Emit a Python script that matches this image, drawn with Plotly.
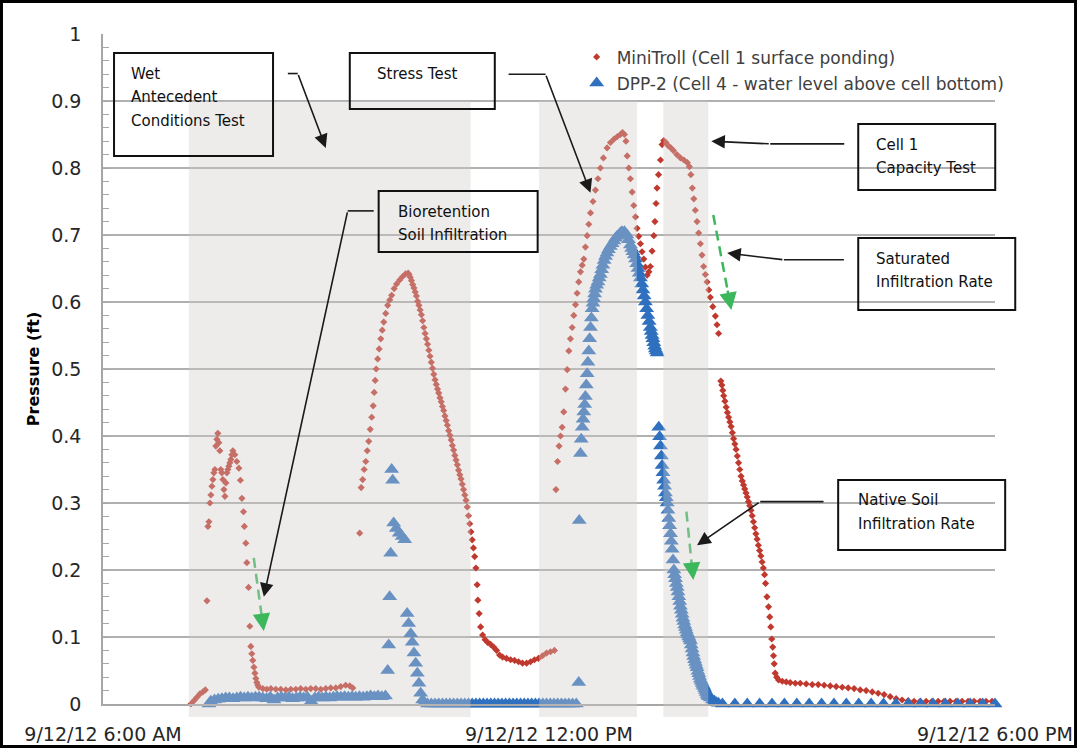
import pandas as pd
import plotly.graph_objects as go

BASE = pd.Timestamp("2012-09-12 06:00:00")


def ts(m):
    return (BASE + pd.Timedelta(minutes=m)).strftime("%Y-%m-%d %H:%M:%S")


# ---------------- data (minutes after 06:00, pressure ft) ----------------
# MiniTroll (Cell 1 surface ponding)
mt_wet = [(71.0, 0.000), (73.4, 0.005), (75.8, 0.010), (78.2, 0.015), (80.6, 0.018), (82.6, 0.021),
          (83.9, 0.154), (84.7, 0.265), (85.5, 0.272), (86.3, 0.300), (87.1, 0.312), (87.9, 0.325),
          (88.7, 0.335), (89.5, 0.345), (90.3, 0.350), (91.1, 0.385), (91.9, 0.395), (92.7, 0.404),
          (93.5, 0.390), (94.3, 0.378), (95.1, 0.350), (95.9, 0.345), (96.8, 0.335), (97.6, 0.320),
          (98.4, 0.310), (99.2, 0.330), (100.0, 0.345), (100.8, 0.350), (101.6, 0.355), (102.4, 0.360),
          (103.2, 0.365), (104.0, 0.372), (104.8, 0.378), (106.4, 0.372), (108.0, 0.362), (109.7, 0.352),
          (110.9, 0.334), (112.1, 0.307), (113.4, 0.287), (114.1, 0.265), (115.3, 0.240), (116.1, 0.211),
          (117.5, 0.174), (118.5, 0.116), (119.3, 0.086), (120.1, 0.075), (120.9, 0.065), (121.8, 0.055),
          (122.6, 0.046), (123.4, 0.038), (124.2, 0.032), (125.0, 0.028), (125.8, 0.025), (129.0, 0.023),
          (132.2, 0.022), (135.5, 0.023), (139.5, 0.022), (143.5, 0.022), (147.6, 0.021), (151.6, 0.022),
          (155.6, 0.022), (159.6, 0.023), (163.7, 0.022), (167.7, 0.023), (171.7, 0.023), (175.8, 0.022),
          (179.8, 0.023), (183.8, 0.024), (187.9, 0.024), (191.9, 0.026), (195.9, 0.028), (199.2, 0.027),
          (201.6, 0.024)]

mt_bio = [(207.2, 0.255), (208.4, 0.323), (209.6, 0.335), (210.8, 0.350), (212.1, 0.362), (213.3, 0.378),
          (214.5, 0.392), (215.7, 0.410), (216.9, 0.428), (218.1, 0.445), (218.9, 0.465), (219.7, 0.483),
          (220.5, 0.500), (221.7, 0.515), (222.9, 0.530), (224.2, 0.545), (225.4, 0.558), (226.6, 0.570),
          (228.2, 0.583), (229.8, 0.595), (231.4, 0.603), (233.0, 0.610), (235.0, 0.620), (237.0, 0.627),
          (239.5, 0.633), (241.9, 0.638), (244.3, 0.642), (246.3, 0.643), (247, 0.641), (248, 0.637),
          (249, 0.632), (250, 0.626), (251, 0.621), (252, 0.615), (253, 0.609), (254, 0.601), (255, 0.595),
          (256, 0.588), (257, 0.581), (258, 0.572), (259, 0.562), (260, 0.553), (261, 0.545), (262, 0.537),
          (263, 0.528), (264, 0.519), (265, 0.510), (266, 0.501), (267, 0.492), (268, 0.484), (269, 0.477),
          (270, 0.470), (271, 0.464), (272, 0.457), (273, 0.451), (274, 0.444), (275, 0.438), (276, 0.430),
          (277, 0.423), (278, 0.416), (279, 0.408), (280, 0.401), (281, 0.394), (282, 0.386), (283, 0.379),
          (284, 0.371), (285, 0.364), (286, 0.357), (287, 0.349), (288, 0.342), (289, 0.336), (290, 0.328),
          (291, 0.320), (292, 0.312), (293, 0.304), (294, 0.294), (295, 0.281), (296, 0.269), (297, 0.257),
          (298, 0.245), (299, 0.233), (300, 0.220), (301, 0.203), (302.0, 0.178), (302.6, 0.155),
          (303.6, 0.135), (304.8, 0.115), (306.4, 0.103), (308.4, 0.096), (310.4, 0.092), (312.8, 0.089),
          (315.3, 0.085), (317.7, 0.080), (320.1, 0.073), (322.5, 0.070), (325.7, 0.068), (329.0, 0.066),
          (332.2, 0.065), (335.4, 0.063), (338.6, 0.061), (341.9, 0.061), (345.1, 0.063), (348.3, 0.066),
          (351.5, 0.068), (354.8, 0.072), (358.0, 0.076), (361.2, 0.078), (364.4, 0.080)]

mt_stress = [(365.6, 0.320), (366.9, 0.362), (368.1, 0.385), (369.3, 0.400), (370.6, 0.413), (371.9, 0.436),
             (373.3, 0.470), (374.7, 0.499), (376.0, 0.527), (377.3, 0.545), (378.7, 0.562), (380.0, 0.580),
             (381.4, 0.596), (382.7, 0.613), (384.0, 0.630), (385.4, 0.645), (386.8, 0.655), (388.1, 0.664),
             (389.4, 0.682), (390.8, 0.699), (392.1, 0.716), (393.5, 0.733), (395.5, 0.750), (397.5, 0.767),
             (399.5, 0.784), (401.5, 0.800), (403.9, 0.815), (406.9, 0.830), (409.6, 0.838), (412.4, 0.843),
             (415.2, 0.847), (417.7, 0.850), (419.3, 0.853), (420.9, 0.850), (422.1, 0.840), (423.1, 0.818),
             (424.4, 0.800), (425.7, 0.784), (427.1, 0.764), (428.4, 0.744), (429.8, 0.727), (431.1, 0.710),
             (432.4, 0.698), (433.8, 0.687), (435.1, 0.675), (436.5, 0.664), (437.8, 0.652), (439.2, 0.640),
             (440.6, 0.645), (441.8, 0.653), (443.2, 0.676), (444.6, 0.699), (445.5, 0.720), (446.4, 0.747),
             (447.2, 0.770), (448.4, 0.790), (450.0, 0.812), (451.3, 0.835), (452.6, 0.841), (454.4, 0.838),
             (456.4, 0.833), (458.4, 0.830), (460.4, 0.826), (463.2, 0.820), (466.1, 0.815), (468.9, 0.812),
             (471.7, 0.808), (473.3, 0.802), (474.5, 0.790), (475.7, 0.770), (476.9, 0.754), (478.1, 0.737),
             (479.5, 0.720), (480.8, 0.703), (482.2, 0.687), (483.5, 0.670), (484.8, 0.653), (486.2, 0.641),
             (487.6, 0.630), (489.0, 0.618), (490.2, 0.607), (492.2, 0.593), (494.3, 0.579), (495.6, 0.566),
             (496.9, 0.553)]

mt_drain = [(498.7, 0.482), (499.5, 0.476), (500.3, 0.468), (501.0, 0.460), (502, 0.452), (503, 0.443),
            (504, 0.435), (505, 0.428), (506, 0.421), (507, 0.414), (508, 0.405), (509, 0.396), (510, 0.388),
            (511, 0.380), (512, 0.370), (513, 0.360), (514, 0.350), (515, 0.340), (516, 0.333), (517, 0.327),
            (518, 0.321), (519, 0.315), (520, 0.309), (521, 0.302), (522, 0.296), (523, 0.289), (524, 0.281),
            (525, 0.272), (526, 0.263), (527, 0.254), (528, 0.246), (529, 0.237), (530, 0.229), (531, 0.221),
            (532, 0.212), (533, 0.203), (534.0, 0.193), (534.8, 0.180), (535.9, 0.160), (537.2, 0.145),
            (538.2, 0.130), (539.0, 0.115), (539.8, 0.097), (540.6, 0.085), (541.2, 0.072), (541.8, 0.060),
            (542.6, 0.046), (543.8, 0.040), (545.3, 0.036), (548.3, 0.034), (551.5, 0.033), (554.7, 0.032),
            (558.8, 0.031), (562.8, 0.031), (567.6, 0.030), (572.5, 0.029), (577.3, 0.029), (582.1, 0.028),
            (587.0, 0.027), (591.8, 0.026), (596.7, 0.025), (601.5, 0.024), (606.3, 0.023), (611.2, 0.021),
            (616.0, 0.020), (620.9, 0.018), (625.7, 0.016), (630.5, 0.014), (635.4, 0.011), (640.2, 0.008),
            (645.0, 0.006), (649.9, 0.005), (654.7, 0.004), (659.5, 0.004), (664.4, 0.004), (669.2, 0.004),
            (674.1, 0.004), (678.9, 0.004), (683.7, 0.004), (688.6, 0.004), (693.4, 0.004), (698.3, 0.004),
            (703.1, 0.004), (707.9, 0.004), (712.8, 0.004), (717.6, 0.004)]

# DPP-2 (Cell 4 - water level above cell bottom)
dpp_low = [(85.5, 0.000), (87, 0.004), (90, 0.006), (93, 0.007), (96, 0.008), (99, 0.009), (102, 0.009),
           (105, 0.008), (108, 0.009), (111, 0.010), (114, 0.009), (117, 0.010), (120, 0.009), (123, 0.010),
           (126, 0.010), (129, 0.009), (132, 0.008), (135, 0.010), (138, 0.006), (141, 0.009), (144, 0.010),
           (147, 0.009), (150, 0.010), (153, 0.008), (156, 0.009), (159, 0.010), (162, 0.009), (165, 0.010),
           (168, 0.004), (171, 0.009), (174, 0.010), (177, 0.009), (180, 0.010), (183, 0.009), (186, 0.010),
           (189, 0.011), (192, 0.010), (195, 0.011), (198, 0.010), (201, 0.011), (204, 0.010), (207, 0.011),
           (210, 0.010), (213, 0.011), (216, 0.012), (219, 0.011), (222, 0.012), (225, 0.011), (228, 0.012)]

dpp_spike = [(229.8, 0.050), (230.6, 0.088), (231.4, 0.160), (232.2, 0.225), (233.0, 0.350), (233.8, 0.334),
             (234.6, 0.270), (236.7, 0.262), (239.1, 0.255), (241.5, 0.250), (243.5, 0.245), (245.5, 0.135),
             (246.7, 0.120), (248.4, 0.105), (249.6, 0.092), (251.0, 0.076), (252.4, 0.061), (253.7, 0.046),
             (255.0, 0.031), (256.4, 0.016), (258.0, 0.006), (259.2, 0.002)]

dpp_zero = [(262, 0.0), (265, 0.0), (268, 0.0), (271, 0.0), (274, 0.0), (277, 0.0), (280, 0.0), (283, 0.0),
            (286, 0.0), (289, 0.0), (292, 0.0), (295, 0.0), (298, 0.0), (301, 0.0), (304, 0.0), (307, 0.0),
            (310, 0.0), (313, 0.0), (316, 0.0), (319, 0.0), (322, 0.0), (325, 0.0), (328, 0.0), (331, 0.0),
            (334, 0.0), (337, 0.0), (340, 0.0), (343, 0.0), (346, 0.0), (349, 0.0), (352, 0.0), (355, 0.0),
            (358, 0.0), (361, 0.0), (364, 0.0), (367, 0.0), (370, 0.0), (373, 0.0), (376, 0.0), (379, 0.0),
            (382, 0.0), (384.0, 0.032)]

dpp_stress = [(384.4, 0.274), (385.4, 0.374), (386.0, 0.395), (386.8, 0.413), (387.5, 0.425), (388.1, 0.436),
              (388.8, 0.447), (389.4, 0.459), (390.1, 0.476), (390.8, 0.493), (391.4, 0.510), (392.1, 0.527),
              (392.8, 0.545), (393.5, 0.562), (394.2, 0.576), (394.8, 0.590), (395.5, 0.598), (396.1, 0.605),
              (396.8, 0.612), (397.5, 0.619), (398.5, 0.625), (399.5, 0.630), (400.5, 0.636), (401.5, 0.641),
              (402.5, 0.648), (403.5, 0.655), (404.5, 0.662), (405.6, 0.668), (406.8, 0.673), (408.0, 0.678),
              (409.5, 0.683), (411.0, 0.687), (412.4, 0.691), (413.7, 0.695), (415.0, 0.698), (416.3, 0.700),
              (417.6, 0.703), (418.9, 0.705), (420.9, 0.705), (422.9, 0.700), (424.1, 0.693), (425.7, 0.685),
              (426.7, 0.680), (427.7, 0.675), (428.8, 0.670), (429.8, 0.664), (430.8, 0.657), (431.8, 0.650),
              (432.8, 0.643), (433.8, 0.636), (434.8, 0.627), (435.8, 0.618), (436.8, 0.609), (437.8, 0.600),
              (438.8, 0.590), (439.8, 0.580), (440.8, 0.571), (441.8, 0.562), (442.5, 0.556), (443.2, 0.550),
              (443.9, 0.545), (444.6, 0.539), (445.3, 0.534), (445.9, 0.530), (446.6, 0.527), (447.3, 0.524)]

dpp_native = [(448.6, 0.413), (449.3, 0.399), (450.0, 0.385), (450.7, 0.370), (451.3, 0.356), (452.0, 0.345),
              (452.6, 0.334), (453.3, 0.325), (454.0, 0.315), (454.7, 0.308), (455.4, 0.300), (456.0, 0.289),
              (456.7, 0.277), (457.4, 0.266), (458.1, 0.254), (458.7, 0.243), (459.4, 0.231), (460.1, 0.215),
              (460.8, 0.200), (461.4, 0.193), (462.1, 0.187), (462.8, 0.180), (463.5, 0.174), (464.1, 0.167),
              (464.8, 0.160), (465.5, 0.153), (466.1, 0.146), (466.8, 0.140), (467.5, 0.134), (468.1, 0.128),
              (468.8, 0.123), (469.5, 0.118), (470.2, 0.114), (470.8, 0.110), (471.5, 0.106), (472.2, 0.103),
              (472.8, 0.100), (473.5, 0.097), (474.2, 0.094), (474.8, 0.088), (475.5, 0.082), (476.2, 0.076),
              (476.8, 0.071), (477.5, 0.066), (478.2, 0.062), (478.8, 0.058), (479.5, 0.054), (480.2, 0.049),
              (480.9, 0.045), (481.5, 0.041), (482.2, 0.037), (482.9, 0.034), (483.6, 0.031), (484.2, 0.028),
              (484.9, 0.026), (485.6, 0.023), (486.2, 0.020), (486.9, 0.017), (487.6, 0.014), (488.3, 0.012),
              (488.9, 0.011), (490.2, 0.009), (491.9, 0.006), (493.5, 0.004), (495.1, 0.002), (496.7, 0.001)]

dpp_tail = [(500, 0.0), (510, 0.0), (520, 0.0), (530, 0.0), (540, 0.0), (550, 0.0), (560, 0.0), (570, 0.0),
            (580, 0.0), (590, 0.0), (600, 0.0), (610, 0.0), (620, 0.0), (630, 0.0), (640, 0.0), (650, 0.0),
            (660, 0.0), (670, 0.0), (680, 0.0), (690, 0.0), (700, 0.0), (710, 0.0), (720, 0.0)]

series_names = ["MiniTroll (Cell 1 surface ponding)", "DPP-2 (Cell 4 - water level above cell bottom)"]

# test periods (shaded), minutes after 06:00
test_start = [69.3, 352.0, 452.3]
test_end = [296.7, 431.0, 488.6]

X_SPAN_MIN = 720
x_tick_minutes = [0, 360, 720]
x_tick_labels = ["9/12/12 6:00 AM", "9/12/12 12:00 PM", "9/12/12 6:00 PM"]

# call-out boxes: text lines, left (min), top (ft), width px, height px, text indent px
boxes = [
    (["Wet", "Antecedent", "Conditions Test"], 8.1, 0.973, 161, 105, 17),
    (["Stress Test"], 198.4, 0.973, 147, 58, 27),
    (["Bioretention", "Soil Infiltration"], 221.7, 0.767, 161, 63, 19),
    (["Cell 1", "Capacity Test"], 608.8, 0.867, 139, 68, 18),
    (["Saturated", "Infiltration Rate"], 608.8, 0.697, 159, 74, 18),
    (["Native Soil", "Infiltration Rate"], 592.6, 0.336, 169, 72, 20),
]
# black pointers: stub start, stub end (min), stub level (ft), tip (min, ft)
pointers = [
    (149.2, 157.2, 0.941, 179.8, 0.830),
    (327.4, 357.2, 0.940, 393.5, 0.763),
    (218.5, 197.5, 0.736, 129.8, 0.160),
    (598.3, 538.6, 0.836, 491.0, 0.840),
    (598.0, 549.6, 0.663, 503.8, 0.673),
    (581.6, 530.5, 0.302, 479.5, 0.237),
]
# green dashed rate arrows: start (min, ft), tip (min, ft)
rate_arrows = [
    (121.7, 0.218, 129.8, 0.109),
    (492.6, 0.730, 507.2, 0.588),
    (470.9, 0.287, 476.5, 0.185),
]

RED = "#c0392f"
BLUE = "#2f70bf"
GREEN = "#3db75b"
FONT = "DejaVu Sans"
PX_PER_MIN = 892 / 720.0   # plot width / x span (layout geometry only)
PX_PER_FT = 670 / 1.0      # plot height / y span (layout geometry only)
FIRST_LINE_PX = 21.5
LINE_STEP_PX = 23.5

mt = mt_wet + mt_bio + mt_stress + mt_drain
dpp = dpp_low + dpp_spike + dpp_zero + dpp_stress + dpp_native + dpp_tail

fig = go.Figure()
fig.add_trace(go.Scatter(
    x=[ts(t) for t, _ in mt], y=[p for _, p in mt], mode="markers", name=series_names[0],
    marker=dict(symbol="diamond", size=5.5, color=RED, line=dict(width=0)),
    cliponaxis=False, legendgroup="a"))
fig.add_trace(go.Scatter(
    x=[ts(t) for t, _ in dpp], y=[p for _, p in dpp], mode="markers", name=series_names[1],
    marker=dict(symbol="triangle-up", size=13, color=BLUE, line=dict(width=0)),
    cliponaxis=False, legendgroup="b"))

shapes = []
# green dashed shafts (drawn before the shading so the shading tints them)
for (t0, p0, t1, p1) in rate_arrows:
    shapes.append(dict(type="line", xref="x", yref="y", x0=ts(t0), y0=p0,
                       x1=ts(t0 + 0.8 * (t1 - t0)), y1=p0 + 0.8 * (p1 - p0),
                       line=dict(color=GREEN, width=2.5, dash="10px,6px"), layer="above"))
for s, e in zip(test_start, test_end):
    shapes.append(dict(type="rect", xref="x", yref="paper", x0=ts(s), x1=ts(e), y0=-0.0194, y1=0.9,
                       fillcolor="rgb(205,203,200)", opacity=0.37, line=dict(width=0), layer="above"))
for (t0, t1, lv, tt, tp) in pointers:
    shapes.append(dict(type="line", xref="x", yref="y", x0=ts(t0), x1=ts(t1), y0=lv, y1=lv,
                       line=dict(color="#1a1a1a", width=1.6), layer="above"))
# box frames in paper units (not clipped at the plot edge); y range is 0..1 so ft == paper
for (lines, t, p, w, h, ind) in boxes:
    shapes.append(dict(type="rect", xref="paper", yref="paper",
                       x0=(t + 1 / PX_PER_MIN) / X_SPAN_MIN, x1=(t + (w - 1) / PX_PER_MIN) / X_SPAN_MIN,
                       y0=p - 1 / PX_PER_FT, y1=p - (h - 1) / PX_PER_FT,
                       line=dict(color="#111", width=2), fillcolor="rgba(0,0,0,0)", layer="above"))
shapes.append(dict(type="rect", xref="paper", yref="paper", x0=-0.1138, x1=1.0903, y0=-0.0634, y1=1.0485,
                   line=dict(color="black", width=3), fillcolor="rgba(0,0,0,0)", layer="above"))

annotations = []
for (lines, t, p, w, h, ind) in boxes:
    for i, line in enumerate(lines):
        annotations.append(dict(
            text=line, x=ts(t + ind / PX_PER_MIN), y=p - (FIRST_LINE_PX + i * LINE_STEP_PX) / PX_PER_FT,
            xref="x", yref="y", xanchor="left", yanchor="middle", showarrow=False, borderpad=0,
            font=dict(family=FONT, size=15, color="#111")))
for (t0, t1, lv, tt, tp) in pointers:
    annotations.append(dict(
        text="", x=ts(tt), y=tp, xref="x", yref="y", ax=ts(t1), ay=lv, axref="x", ayref="y",
        showarrow=True, arrowhead=2, arrowsize=1.7, arrowwidth=1.6, arrowcolor="#1a1a1a", standoff=0))
for (t0, p0, t1, p1) in rate_arrows:
    vx = (t1 - t0) * PX_PER_MIN
    vy = (p0 - p1) * PX_PER_FT
    annotations.append(dict(
        text="", x=ts(t1), y=p1, xref="x", yref="y", ax=-0.22 * vx, ay=-0.22 * vy,
        showarrow=True, arrowhead=2, arrowsize=1.4, arrowwidth=2.5, arrowcolor=GREEN, standoff=0))

fig.update_layout(
    width=1077, height=748, margin=dict(l=103, r=82, t=34, b=44, autoexpand=False),
    paper_bgcolor="white", plot_bgcolor="white", hovermode=False,
    font=dict(family=FONT, color="#262626"),
    shapes=shapes, annotations=annotations,
    legend=dict(x=0.531, y=0.992, xanchor="left", yanchor="top", bgcolor="rgba(0,0,0,0)",
                font=dict(family=FONT, size=17, color="#404040"), tracegroupgap=1),
)
fig.update_xaxes(
    type="date", range=[ts(0), ts(X_SPAN_MIN)], tickvals=[ts(m) for m in x_tick_minutes],
    ticktext=x_tick_labels,
    showgrid=False, zeroline=False, showline=True, linecolor="#a6a6a6", linewidth=2, ticks="",
    tickfont=dict(family=FONT, size=19, color="#262626"), ticklabelstandoff=12, automargin=False)
fig.update_yaxes(
    range=[0, 1], tick0=0, dtick=0.1, showgrid=True, gridcolor="#b0b0b0", gridwidth=2, zeroline=False,
    showline=True, linecolor="#a6a6a6", linewidth=1.5, ticks="inside", ticklen=6, tickcolor="#a6a6a6",
    minor=dict(dtick=0.02, ticks="inside", ticklen=6, tickcolor="#a6a6a6", showgrid=False),
    tickfont=dict(family=FONT, size=19, color="#262626"), ticklabelstandoff=16, automargin=False,
    title=dict(text="<b>Pressure (ft)</b>", font=dict(family=FONT, size=16, color="#000"), standoff=8))

fig.write_html("out.html", config={"displayModeBar": False})
